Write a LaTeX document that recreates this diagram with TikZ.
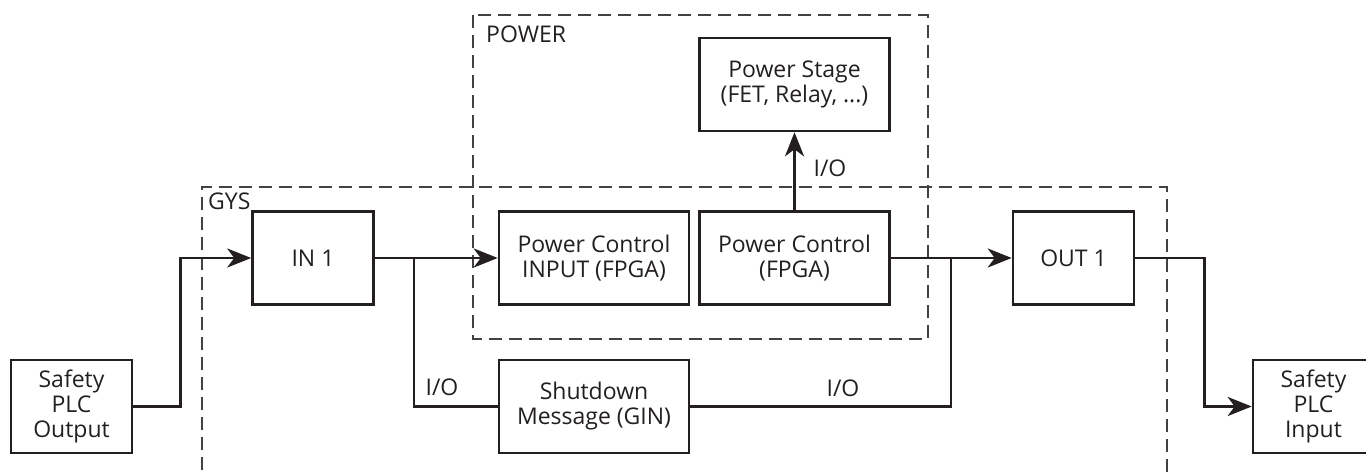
\documentclass[tikz,border=0pt]{standalone}
\usepackage{fontspec}
\setmainfont{Open Sans}
\usetikzlibrary{arrows.meta}
\definecolor{ink}{RGB}{35,31,32}

\begin{document}
\begin{tikzpicture}[x=1pt,y=-1pt,
	font=\fontsize{23}{25}\selectfont,
	block/.style={rectangle,draw=ink,line width=2.6pt,minimum width=121pt,minimum height=93pt,inner sep=0pt,align=center,text=ink},
	wide block/.style={block,minimum width=190pt},
	group/.style={draw=ink!85,line width=1.2pt,dash pattern=on 13pt off 7pt},
	wire/.style={draw=ink,line width=2.6pt},
	flow/.style={wire,-{Stealth[length=24pt,width=19pt,inset=7pt]}},
	tag/.style={inner sep=0pt,text=ink}
]
	\useasboundingbox (0,0) rectangle (1366,473);

	\draw[group] (473,15) rectangle (928,339);
	\draw[group] (202,490) |- (1167,187) -- (1167,490);
	\node[tag,anchor=base west] (power) at (486,43) {POWER};
	\node[tag,anchor=base west] (gys) at (208,210) {GYS};

	\node[block] at (71.5,406.5) (plcout) {Safety\\PLC\\Output};
	\node[block] at (313,258) (in1) {IN 1};
	\node[wide block] at (594,258) (pcin) {Power Control\\INPUT (FPGA)};
	\node[wide block] at (794.5,258) (pcfpga) {Power Control\\(FPGA)};
	\node[wide block] at (794.5,84.5) (stage) {Power Stage\\(FET, Relay, ...)};
	\node[wide block] at (594,406.5) (shutdown) {Shutdown\\Message (GIN)};
	\node[block] at (1073.5,258) (out1) {OUT 1};
	\node[block] at (1313.5,406.5) (plcin) {Safety\\PLC\\Input};

	\coordinate (tapin) at (414,258);
	\coordinate (tapout) at (951,258);

	\draw[flow] (plcout.east) -- ++(47,0) |- (in1.west);
	\draw[flow] (in1) -- (pcin);
	\draw[flow] (pcfpga) -- (stage);
	\draw[flow] (pcfpga) -- (out1);
	\draw[flow] (out1.east) -- ++(69,0) |- (plcin.west);
	\draw[wire] (tapin) |- (shutdown.west);
	\draw[wire] (tapout) |- (shutdown.east);

	\node[tag] at (830,168) (iostage) {I/O};
	\node[tag] at (442,387) (ioin) {I/O};
	\node[tag] at (843,388) (ioout) {I/O};
\end{tikzpicture}
\end{document}
